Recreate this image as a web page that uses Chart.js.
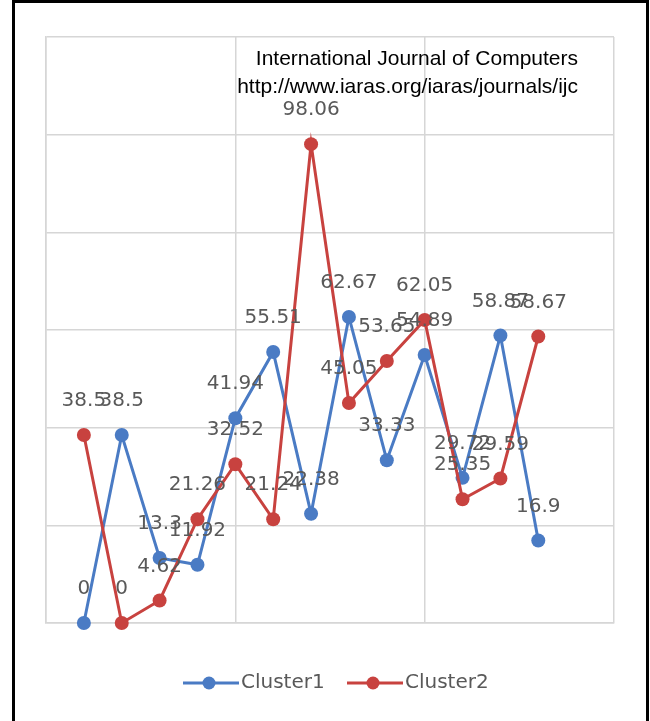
<!DOCTYPE html>
<html>
<head>
<meta charset="utf-8">
<script src="https://cdn.jsdelivr.net/npm/chart.js@4.4.1/dist/chart.umd.min.js"></script>
<style>
    body { margin: 0; background: #fff; }
    #wrap { position: relative; width: 650px; height: 721px; }
    #frame {
        position: absolute; left: 12px; top: 0; width: 631px; height: 721px;
        border-left: 3px solid #000; border-top: 3px solid #000; border-right: 3px solid #000;
        pointer-events: none;
    }
    .stamp {
        position: absolute; right: 72px; font-family: "Liberation Sans", Arial, sans-serif;
        font-size: 21px; color: #000; white-space: nowrap; line-height: 28px;
    }
</style>
</head>
<body>
<div id="wrap">
    <canvas id="myChart" width="650" height="721"></canvas>
    <div class="stamp" style="top:44px">International Journal of Computers</div>
    <div class="stamp" style="top:72px">http://www.iaras.org/iaras/journals/ijc</div>
    <div id="frame"></div>
</div>
<script>
// point positions along the x axis
const positions = [1, 2, 3, 4, 5, 6, 7, 8, 9, 10, 11, 12, 13];
const cluster1 = [0, 38.5, 13.3, 11.92, 41.94, 55.51, 22.38, 62.67, 33.33, 54.89, 29.72, 58.87, 16.9];
const cluster2 = [38.5, 0, 4.62, 21.26, 32.52, 21.24, 98.06, 45.05, 53.65, 62.05, 25.35, 29.59, 58.67];
const seriesNames = ['Cluster1', 'Cluster2'];

const blue = '#4a7bc4';
const red = '#c8423f';
const labelGray = '#595959';

function toPoints(values) {
    return values.map((v, i) => ({ x: positions[i], y: v }));
}

// value labels above every point
const valueLabels = {
    id: 'valueLabels',
    afterDatasetsDraw(chart) {
        const ctx = chart.ctx;
        ctx.save();
        ctx.font = '20px "DejaVu Sans", sans-serif';
        ctx.fillStyle = labelGray;
        ctx.textAlign = 'center';
        ctx.textBaseline = 'middle';
        chart.data.datasets.forEach((ds, di) => {
            const meta = chart.getDatasetMeta(di);
            meta.data.forEach((pt, i) => {
                ctx.fillText(String(ds.data[i].y), pt.x, pt.y - 34);
            });
        });
        ctx.restore();
    }
};

// legend drawn like the office one: line with a marker, then the name
const lineLegend = {
    id: 'lineLegend',
    afterDraw(chart) {
        const ctx = chart.ctx;
        const y = 683;
        const items = [
            { x: 183, color: blue, name: seriesNames[0] },
            { x: 347, color: red, name: seriesNames[1] }
        ];
        ctx.save();
        ctx.font = '20px "DejaVu Sans", sans-serif';
        ctx.textBaseline = 'middle';
        items.forEach(item => {
            ctx.strokeStyle = item.color;
            ctx.lineWidth = 3;
            ctx.beginPath();
            ctx.moveTo(item.x, y);
            ctx.lineTo(item.x + 56, y);
            ctx.stroke();
            ctx.fillStyle = item.color;
            ctx.beginPath();
            ctx.arc(item.x + 26, y, 6.5, 0, Math.PI * 2);
            ctx.fill();
            ctx.fillStyle = labelGray;
            ctx.fillText(item.name, item.x + 58, y);
        });
        ctx.restore();
    }
};

const ctx = document.querySelector('#myChart');
new Chart(ctx, {
    type: 'scatter',
    data: {
        datasets: [{
            label: seriesNames[0],
            data: toPoints(cluster1),
            showLine: true,
            borderColor: blue,
            backgroundColor: blue,
            borderWidth: 3,
            pointRadius: 7,
            pointBorderWidth: 0,
            clip: false,
            order: 1
        }, {
            label: seriesNames[1],
            data: toPoints(cluster2),
            showLine: true,
            borderColor: red,
            backgroundColor: red,
            borderWidth: 3,
            pointRadius: 7,
            pointBorderWidth: 0,
            clip: false,
            order: 0
        }]
    },
    options: {
        responsive: false,
        animation: false,
        layout: { padding: { left: 46, top: 37, right: 36, bottom: 98 } },
        plugins: {
            legend: { display: false },
            tooltip: { enabled: false }
        },
        scales: {
            x: {
                type: 'linear',
                min: 0,
                max: 15,
                ticks: { display: false, stepSize: 5 },
                grid: { color: '#d6d6d6', lineWidth: 1.5, drawTicks: false },
                border: { color: '#d6d6d6', width: 1.5 }
            },
            y: {
                min: 0,
                max: 120,
                ticks: { display: false, stepSize: 20 },
                grid: { color: '#d6d6d6', lineWidth: 1.5, drawTicks: false },
                border: { color: '#d6d6d6', width: 1.5 }
            }
        }
    },
    plugins: [valueLabels, lineLegend]
});
</script>
</body>
</html>
